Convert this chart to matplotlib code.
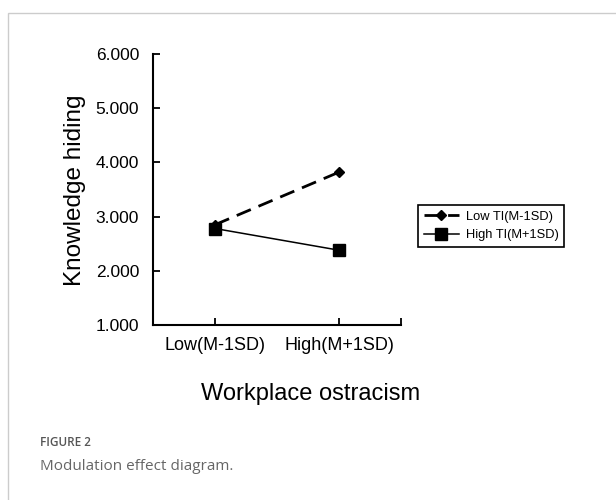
import matplotlib
matplotlib.use('Agg')
import matplotlib.pyplot as plt
from matplotlib.patches import Rectangle

# %% Data
categories = ['Low(M-1SD)', 'High(M+1SD)']
low_ti = [2.85, 3.82]
high_ti = [2.78, 2.38]
series_names = ['Low TI(M-1SD)', 'High TI(M+1SD)']
y_ticks = [1, 2, 3, 4, 5, 6]

plt.rcParams['font.family'] = ['Liberation Sans', 'DejaVu Sans']

# %% Figure
fig = plt.figure(figsize=(6.16, 5.0), dpi=100)

# light grey frame around the panel (open to the right / bottom)
fig.add_artist(Rectangle((8 / 616, -0.1), 2.0, 1 - 13 / 500 + 0.1,
                         transform=fig.transFigure, fill=False,
                         edgecolor='#cccccc', linewidth=1.0))

ax = fig.add_axes([153 / 616, 1 - 325 / 500, 248 / 616, 271 / 500])
x = list(range(len(categories)))

ax.plot(x, low_ti, color='black', linestyle=(0, (5.5, 3)), linewidth=2.0,
        marker='D', markersize=5.5, label=series_names[0])
ax.plot(x, high_ti, color='black', linestyle='-', linewidth=1.1,
        marker='s', markersize=8, label=series_names[1])

ax.set_xlim(-0.5, 1.5)
ax.set_ylim(1, 6)
ax.set_yticks(y_ticks)
ax.set_yticklabels(['%.3f' % v for v in y_ticks], fontsize=12.5)
ax.set_xticks(x + [1.5])
ax.set_xticklabels(categories + [''], fontsize=13)

for s in ['top', 'right']:
    ax.spines[s].set_visible(False)
for s in ['left', 'bottom']:
    ax.spines[s].set_linewidth(1.5)
ax.tick_params(axis='both', direction='in', length=5, width=1.3, color='black')
ax.tick_params(axis='y', pad=10)
ax.tick_params(axis='x', pad=9)

fig.text(75 / 616, 1 - 190 / 500, 'Knowledge hiding', rotation=90,
         fontsize=17.5, ha='center', va='center')
fig.text(311 / 616, 1 - 394 / 500, 'Workplace ostracism',
         fontsize=17, ha='center', va='center')

leg = ax.legend(loc='center left', bbox_to_anchor=(418 / 616, 1 - 226 / 500),
                bbox_transform=fig.transFigure, fontsize=9.3, frameon=True,
                fancybox=False, edgecolor='black', framealpha=1,
                handlelength=2.7, handletextpad=0.55, borderpad=0.45,
                labelspacing=0.5, borderaxespad=0)
leg.get_frame().set_linewidth(1.2)

# %% Caption
fig.text(40 / 616, 1 - 443 / 500, 'FIGURE 2', fontsize=8.5,
         family=['Open Sans', 'DejaVu Sans'], fontweight='semibold',
         color='#555555', va='center')
fig.text(40 / 616, 1 - 466 / 500, 'Modulation effect diagram.', fontsize=11,
         family=['Open Sans', 'DejaVu Sans'], color='#666666', va='center')

fig.savefig('out.png', dpi=100)
